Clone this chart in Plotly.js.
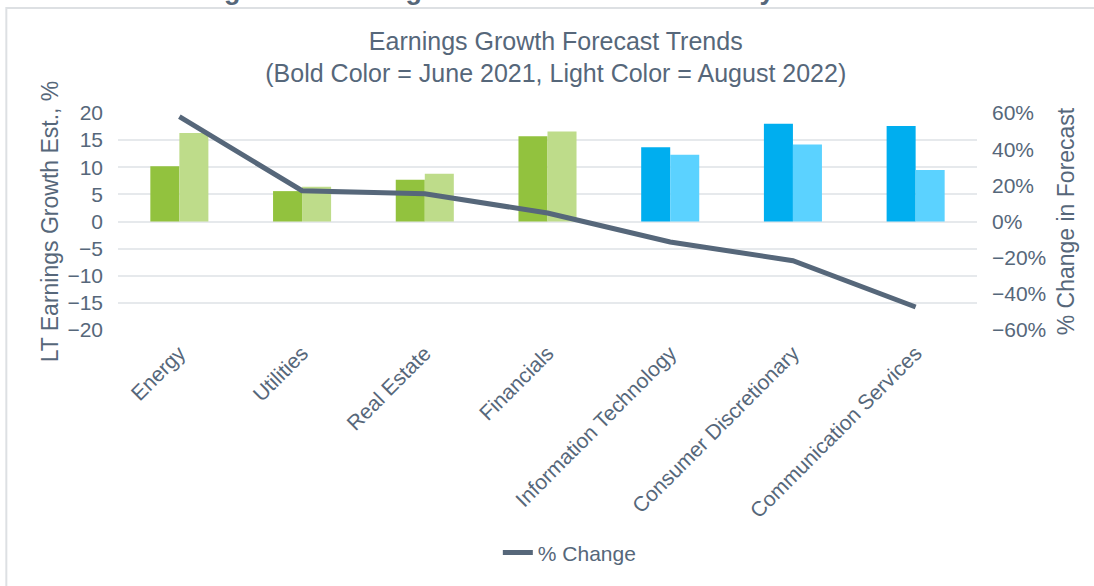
<!DOCTYPE html>
<html>
<head>
<meta charset="utf-8">
<script src="https://cdn.plot.ly/plotly-3.0.1.min.js"></script>
<style>
  html, body { margin: 0; padding: 0; background: #fff; }
  #plot { width: 1094px; height: 586px; }
</style>
</head>
<body>
<div id="plot"></div>
<script>
// Sectors and values
let sectors = ["Energy", "Utilities", "Real Estate", "Financials",
    "Information Technology", "Consumer Discretionary", "Communication Services"];
let june2021 = [10.2, 5.6, 7.7, 15.7, 13.7, 18.0, 17.6];
let august2022 = [16.3, 6.4, 8.8, 16.6, 12.3, 14.2, 9.5];
let pctChange = [0.58, 0.17, 0.153, 0.047, -0.113, -0.217, -0.473];
let yTicks = [-20, -15, -10, -5, 0, 5, 10, 15, 20];
let y2Ticks = [-0.6, -0.4, -0.2, 0, 0.2, 0.4, 0.6];

// first four sectors are green, the rest blue
let boldColors = [];
let lightColors = [];
for (let i = 0; i < sectors.length; i++) {
    boldColors.push(i < 4 ? "#92C23E" : "#00AEEF");
    lightColors.push(i < 4 ? "#BEDC8A" : "#5BD2FF");
}

let textColor = "#56677A";
let font = "'Liberation Sans', Arial, sans-serif";

// Trace 1: June 2021 estimates
let trace1 = {
    x: sectors,
    y: june2021,
    type: "bar",
    name: "June 2021",
    marker: { color: boldColors },
    showlegend: false
};

// Trace 2: August 2022 estimates
let trace2 = {
    x: sectors,
    y: august2022,
    type: "bar",
    name: "August 2022",
    marker: { color: lightColors },
    showlegend: false
};

// Trace 3: % change on the right axis
let trace3 = {
    x: sectors,
    y: pctChange,
    type: "scatter",
    mode: "lines",
    name: "% Change",
    yaxis: "y2",
    line: { color: "#56677A", width: 5 }
};

let pdata = [trace1, trace2, trace3];

let layout = {
    width: 1094,
    height: 586,
    margin: { l: 118, r: 117, t: 113, b: 254 },
    paper_bgcolor: "#fff",
    plot_bgcolor: "#fff",
    font: { family: font, color: textColor, size: 21 },
    title: {
        text: "Earnings Growth Forecast Trends<br>(Bold Color = June 2021, Light Color = August 2022)",
        font: { size: 25, color: textColor },
        xref: "container",
        x: 0.508,
        xanchor: "center",
        yref: "container",
        y: 0.915,
        yanchor: "top"
    },
    barmode: "group",
    bargap: 0.527,
    bargroupgap: 0,
    xaxis: {
        range: [-0.5, sectors.length - 0.5],
        tickangle: -45,
        tickfont: { size: 21 },
        showgrid: false,
        showline: false,
        ticks: "",
        ticklabelstandoff: 6
    },
    yaxis: {
        range: [-20, 20],
        tickvals: yTicks,
        showgrid: true,
        gridcolor: "#E6E9EC",
        gridwidth: 2,
        zeroline: true,
        zerolinecolor: "#E6E9EC",
        zerolinewidth: 2,
        showline: false,
        ticks: "",
        ticklabelstandoff: 14,
        automargin: true,
        title: { text: "LT Earnings Growth Est., %", font: { size: 23 }, standoff: 2 }
    },
    yaxis2: {
        overlaying: "y",
        side: "right",
        range: [-0.6, 0.6],
        tickvals: y2Ticks,
        tickformat: ".0%",
        showgrid: false,
        zeroline: false,
        showline: false,
        ticks: "",
        ticklabelstandoff: 14,
        title: { text: "% Change in Forecast", font: { size: 23 }, standoff: 12 }
    },
    legend: {
        orientation: "h",
        x: 0.526,
        xanchor: "center",
        y: -1.027,
        yanchor: "middle",
        font: { size: 21 }
    },
    annotations: [{
        text: "<b>Figure 4: Earnings Growth Forecasts for Key Sectors</b>",
        xref: "paper",
        x: 0.492,
        xanchor: "center",
        yref: "paper",
        y: 1.488,
        yanchor: "bottom",
        showarrow: false,
        font: { size: 27, color: textColor }
    }],
    shapes: [{
        type: "rect",
        xref: "paper",
        yref: "paper",
        x0: -0.130,
        x1: 1.15,
        y0: -1.2,
        y1: 1.484,
        line: { color: "#DDE0E3", width: 2 },
        fillcolor: "rgba(0,0,0,0)",
        layer: "below"
    }]
};

Plotly.newPlot("plot", pdata, layout, { displayModeBar: false });
</script>
</body>
</html>
